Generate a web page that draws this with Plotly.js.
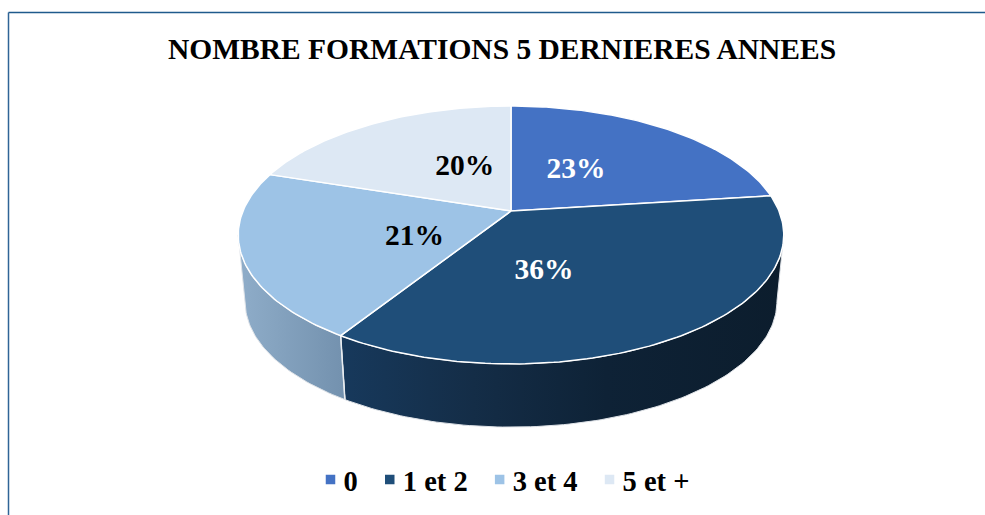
<!DOCTYPE html>
<html>
<head>
<meta charset="utf-8">
<script src="https://cdn.plot.ly/plotly-3.0.1.min.js"></script>
<style>html,body{margin:0;padding:0;background:#fff}#chart{width:985px;height:515px}</style>
</head>
<body>
<div id="chart"></div>
<script>
// Data
const categories = ["0", "1 et 2", "3 et 4", "5 et +"];
const percents = [23, 36, 21, 20];
const titleText = "NOMBRE FORMATIONS 5 DERNIERES ANNEES";

// Styles
const sliceColors = ["#4472c4", "#1f4e79", "#9dc3e6", "#dde8f4"];
const labelColors = ["#ffffff", "#ffffff", "#000000", "#000000"];
const FONT = '"Liberation Serif", "Times New Roman", serif';

// Perspective projection of the pie disc on the page
const view = {cx: 511, cy: 211, a: 268, b: 124.5, k: 0.186, depth: 67, baseScale: 0.975};
function project(theta, r, base) {
  const rad = theta * Math.PI / 180;
  const u = r * Math.sin(rad), v = r * Math.cos(rad);
  const d = 1 + view.k * v, s = base ? view.baseScale : 1;
  return [view.cx + s * view.a * u / d, view.cy + (base ? view.depth : 0) - s * view.b * v / d];
}
function rim(from, to, base) {
  const pts = [], n = Math.max(2, Math.ceil(Math.abs(to - from)));
  for (let i = 0; i <= n; i++) pts.push(project(from + (to - from) * i / n, 1, base));
  return pts;
}

const total = percents.reduce((s, v) => s + v, 0);
const edges = [0];
percents.forEach(v => edges.push(edges[edges.length - 1] + v / total * 360));

// Angles at which the projected disc is widest: the silhouette of the side wall
const widestRight = Math.acos(-view.k) * 180 / Math.PI;
const widestLeft = 360 - widestRight;

const traces = [];

// Side walls, front part of the pie only
const wallSpans = [
  null,
  [widestRight, edges[2]],
  [edges[2], widestLeft],
  null
];
const wallGradients = [
  null,
  [[0, "#17395c"], [0.3, "#142d47"], [0.6, "#0e2236"], [1, "#0c1d2d"]],
  [[0, "#8fadc9"], [1, "#7391ae"]],
  null
];
percents.forEach((p, i) => {
  if (!wallGradients[i]) return;
  const [a, b] = wallSpans[i];
  const pts = rim(a, b, false).concat(rim(b, a, true));
  pts.push(pts[0]);
  traces.push({
    type: "scatter", mode: "lines", x: pts.map(q => q[0]), y: pts.map(q => q[1]),
    fill: "toself",
    fillgradient: {type: "horizontal", colorscale: wallGradients[i]},
    line: {color: "#dfe3e8", width: 1}, showlegend: false, hoverinfo: "skip"
  });
});
// Wall separator
{
  const a = project(edges[2], 1, false), b = project(edges[2], 1, true);
  traces.push({type: "scatter", mode: "lines", x: [a[0], b[0]], y: [a[1], b[1]],
    line: {color: "#e8ecf0", width: 1.5}, showlegend: false, hoverinfo: "skip"});
}

// Top faces
percents.forEach((p, i) => {
  const c = project(0, 0, false);
  const pts = [c].concat(rim(edges[i], edges[i + 1], false), [c]);
  traces.push({
    type: "scatter", mode: "lines", x: pts.map(q => q[0]), y: pts.map(q => q[1]),
    fill: "toself", fillcolor: sliceColors[i],
    line: {color: "#ffffff", width: 1.5},
    name: categories[i], showlegend: false,
    hovertemplate: categories[i] + ": " + p + "%<extra></extra>"
  });
});

// Percent labels
const labelAngleShift = [-6, 18.3, -9, 10];
const labelRadius = [0.44, 0.45, 0.40, 0.43];
const labelNudge = {x: 1, y: 1.5};
const labelPts = percents.map((p, i) =>
  project((edges[i] + edges[i + 1]) / 2 + labelAngleShift[i], labelRadius[i], false));
traces.push({
  type: "scatter", mode: "text",
  x: labelPts.map(q => q[0] + labelNudge.x), y: labelPts.map(q => q[1] + labelNudge.y),
  text: percents.map(p => p + "%"), textposition: "middle center",
  textfont: {family: FONT, size: 29.5, color: labelColors, weight: 700},
  showlegend: false, hoverinfo: "skip"
});

// Legend entries
categories.forEach((name, i) => {
  traces.push({
    type: "scatter", mode: "markers", x: [null], y: [null], name: name,
    marker: {symbol: "square", size: 9.5, color: sliceColors[i]}, hoverinfo: "skip"
  });
});

const layout = {
  width: 985, height: 515,
  margin: {l: 0, r: 0, t: 0, b: 0},
  paper_bgcolor: "#ffffff", plot_bgcolor: "#ffffff",
  title: {
    text: "<b>" + titleText + "</b>",
    x: 502 / 985, y: 1 - 49 / 515, xanchor: "center", yanchor: "middle",
    font: {family: FONT, size: 29.5, color: "#000000"}
  },
  xaxis: {range: [0, 985], visible: false, fixedrange: true},
  yaxis: {range: [515, 0], visible: false, fixedrange: true},
  legend: {
    orientation: "h", x: 499 / 985, xanchor: "center", y: 1 - 480 / 515, yanchor: "middle",
    font: {family: FONT, size: 28.5, color: "#000000", weight: 700},
    itemwidth: 30, traceorder: "normal", bgcolor: "rgba(0,0,0,0)"
  },
  shapes: [
    {type: "line", xref: "paper", yref: "paper", x0: 8.5 / 985, x1: 1, y0: 1 - 12.5 / 515, y1: 1 - 12.5 / 515,
     line: {color: "#1f5a8c", width: 1.5}},
    {type: "line", xref: "paper", yref: "paper", x0: 8.5 / 985, x1: 8.5 / 985, y0: 0, y1: 1 - 12.5 / 515,
     line: {color: "#2f6496", width: 1.5}}
  ],
  showlegend: true
};
Plotly.newPlot("chart", traces, layout, {displayModeBar: false, staticPlot: true}).then(gd => {
  // The swatches sit closer to their text in the reference
  gd.querySelectorAll(".legend .legendsymbols").forEach(el => el.setAttribute("transform", "translate(7,0)"));
});
</script>
</body>
</html>
